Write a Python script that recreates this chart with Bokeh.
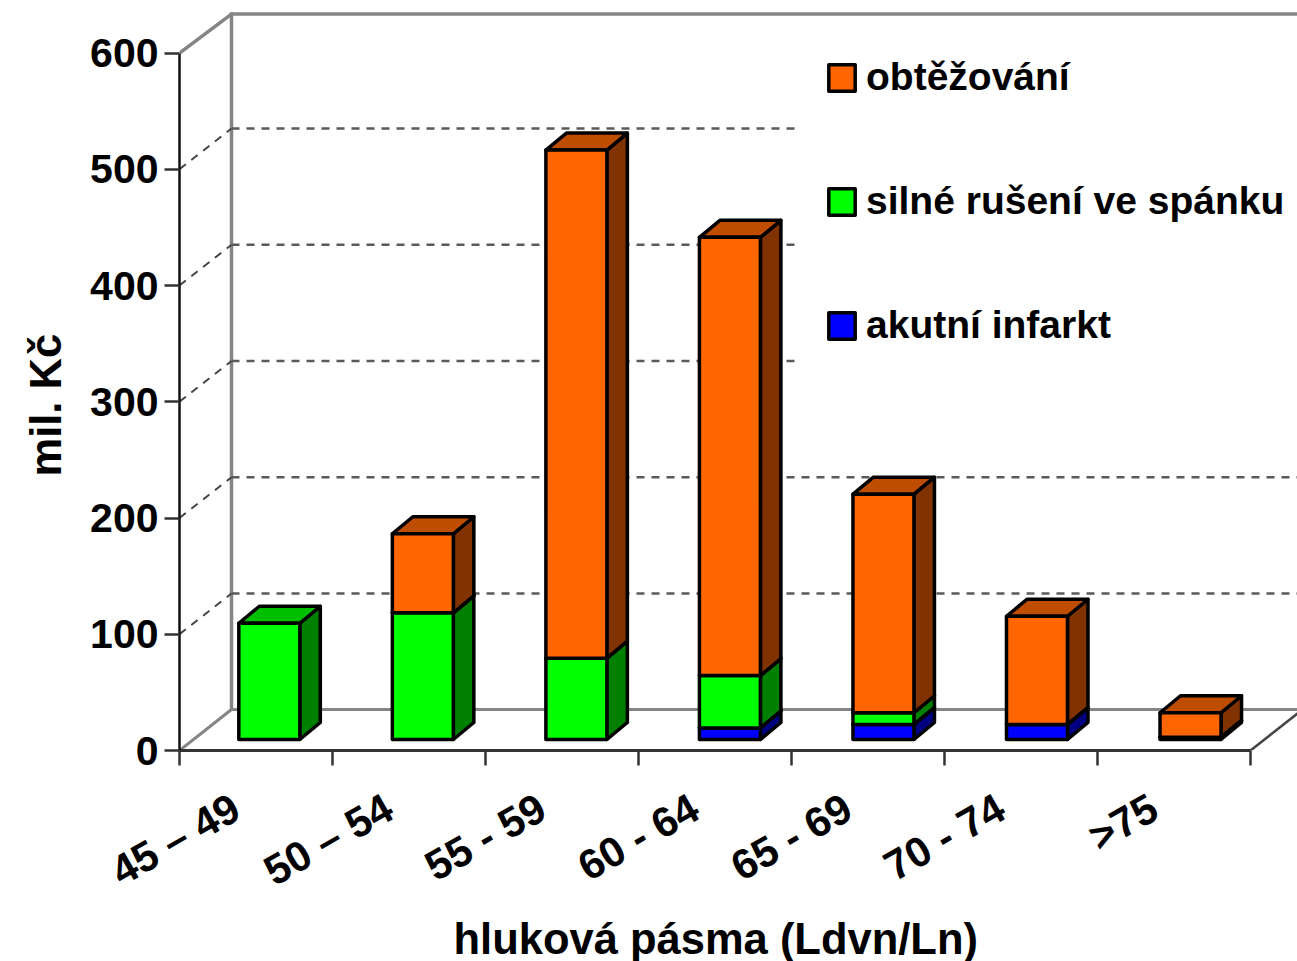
from bokeh.plotting import figure
from bokeh.models import Range1d, FixedTicker, Legend, LegendItem, Title
from bokeh.embed import file_html
from bokeh.resources import INLINE

# ---- data (mil. Kč) ----
categories = ["45 – 49", "50 – 54", "55 - 59", "60 - 64", "65 - 69", "70 - 74", ">75"]
infarkt = [0, 0, 0, 10, 13, 13, 2]
spanek = [100, 109, 70, 45, 10, 0, 0]
obtezovani = [0, 68, 437, 377, 188, 93, 21]
y_ticks = [0, 100, 200, 300, 400, 500, 600]
grid_values = [100, 200, 300, 400, 500]
series_names = ["akutní infarkt", "silné rušení ve spánku", "obtěžování"]

# ---- layout ----
W, H = 1297, 961
LEFT, BOTTOM, AXIS_TOP = 179, 750, 52.5
X_UNIT = 153.0                      # px per category
Y_UNIT = (BOTTOM - AXIS_TOP) / 600  # px per mil. Kč
n = len(categories)
wall_dx, wall_dy = 52 / X_UNIT, 40.7 / Y_UNIT
floor_dy = 41 / Y_UNIT
bar_w = 61 / X_UNIT
bar_dx, bar_dy = 20.5 / X_UNIT, 17 / Y_UNIT
bar_off = 0.087
bar_step = 1.0035
base = 11 / Y_UNIT
legend_gap_x = (797 - LEFT) / X_UNIT   # grid lines behind the legend stop here
FONT = "Liberation Sans"

p = figure(width=W, height=H, output_backend="svg", toolbar_location=None,
           x_range=Range1d(0, (W - LEFT) / X_UNIT), y_range=Range1d(0, BOTTOM / Y_UNIT),
           min_border_left=LEFT, min_border_right=0, min_border_top=0,
           min_border_bottom=H - BOTTOM, outline_line_color=None)
p.grid.visible = False

# ---- walls ----
GREY = "#858585"
top = 600 + wall_dy
p.line([0, wall_dx, wall_dx, n + wall_dx + 0.5], [600, top - 1.5, top - 1.5, top - 1.5], line_color=GREY, line_width=3.5)
p.line([wall_dx, wall_dx], [floor_dy, top], line_color=GREY, line_width=3.5)
p.line([0, wall_dx, n + wall_dx + 0.5], [0, floor_dy, floor_dy], line_color=GREY, line_width=3)
p.line([n, n + wall_dx], [0, floor_dy], line_color="#444444", line_width=2.5)
for g in grid_values:
    end = legend_gap_x if g >= 300 else n + wall_dx + 0.5
    p.line([0, wall_dx], [g, g + wall_dy], line_color="#444444", line_width=2, line_dash="8 7")
    p.line([wall_dx, end], [g + wall_dy, g + wall_dy], line_color="#5a5a5a", line_width=2.5, line_dash="8 7")

# ---- stacked 3D bars ----
colors = {
    series_names[0]: ("#0000FF", "#000080", "#0000BF"),
    series_names[1]: ("#00FF00", "#008000", "#00BF00"),
    series_names[2]: ("#FF6600", "#803300", "#BF4D00"),
}
stack = [infarkt, spanek, obtezovani]
bottoms = [0.0] * n
fronts = {}
for name, vals in zip(series_names, stack):
    front, side, tops = colors[name]
    l, r, b, t, sx, sy, tx, ty = [], [], [], [], [], [], [], []
    for i, v in enumerate(vals):
        if v == 0:
            continue
        x0 = i * bar_step + 0.5 + bar_off - bar_w / 2
        x1 = x0 + bar_w
        y0 = base + bottoms[i]
        y1 = y0 + v
        l.append(x0); r.append(x1); b.append(y0); t.append(y1)
        sx.append([x1, x1 + bar_dx, x1 + bar_dx, x1])
        sy.append([y0, y0 + bar_dy, y1 + bar_dy, y1])
        tx.append([x0, x0 + bar_dx, x1 + bar_dx, x1])
        ty.append([y1, y1 + bar_dy, y1 + bar_dy, y1])
    lw = 3.5
    p.patches(sx, sy, fill_color=side, line_color="black", line_width=lw, line_join="round")
    p.patches(tx, ty, fill_color=tops, line_color="black", line_width=lw, line_join="round")
    fronts[name] = p.quad(left=l, right=r, bottom=b, top=t, fill_color=front,
                          line_color="black", line_width=lw, line_join="round")
    bottoms = [a + v for a, v in zip(bottoms, vals)]

# ---- axes ----
ya = p.yaxis[0]
ya.ticker = FixedTicker(ticks=y_ticks)
ya.bounds = (0, 600)
ya.axis_line_color = "#111111"; ya.axis_line_width = 2.5
ya.major_tick_line_color = "#333333"; ya.major_tick_line_width = 2.5
ya.major_tick_in = 0; ya.major_tick_out = 15; ya.minor_tick_in = 0; ya.minor_tick_out = 0
ya.major_label_text_font = FONT; ya.major_label_text_font_style = "bold"
ya.major_label_text_font_size = "41px"; ya.major_label_text_color = "black"
ya.major_label_standoff = 6

xa = p.xaxis[0]
label_pos = [i + 0.5 - 0.13 for i in range(n)]
xa.ticker = FixedTicker(ticks=label_pos, minor_ticks=list(range(n + 1)))
xa.major_label_overrides = {m: c for m, c in zip(label_pos, categories)}
xa.bounds = (0, n)
xa.axis_line_color = "#333333"; xa.axis_line_width = 3
xa.major_tick_in = 0; xa.major_tick_out = 0
xa.minor_tick_in = 0; xa.minor_tick_out = 15
xa.minor_tick_line_color = "#333333"; xa.minor_tick_line_width = 2.5
xa.major_label_orientation = 0.52
xa.major_label_text_font = FONT; xa.major_label_text_font_style = "bold"
xa.major_label_text_font_size = "42px"; xa.major_label_text_color = "black"
xa.major_label_standoff = 39

# ---- axis titles ----
p.add_layout(Title(text="hluková pásma (Ldvn/Ln)", align="left", offset=274, standoff=-9,
                   text_font=FONT, text_font_style="bold", text_font_size="43.5px", text_color="black"), "below")
p.add_layout(Title(text="mil. Kč", align="left", offset=274, standoff=36,
                   text_font=FONT, text_font_style="bold", text_font_size="43.5px", text_color="black"), "left")

# ---- legend ----
legend = Legend(items=[LegendItem(label=name, renderers=[fronts[name]]) for name in reversed(series_names)],
                location=(646, 403), margin=0, padding=28, spacing=80,
                glyph_width=33, glyph_height=33, label_standoff=8,
                background_fill_alpha=0, border_line_color=None,
                label_text_font=FONT, label_text_font_style="bold",
                label_text_font_size="39px", label_text_color="black")
p.add_layout(legend, "center")

open("out.html", "w").write(file_html(p, INLINE))
